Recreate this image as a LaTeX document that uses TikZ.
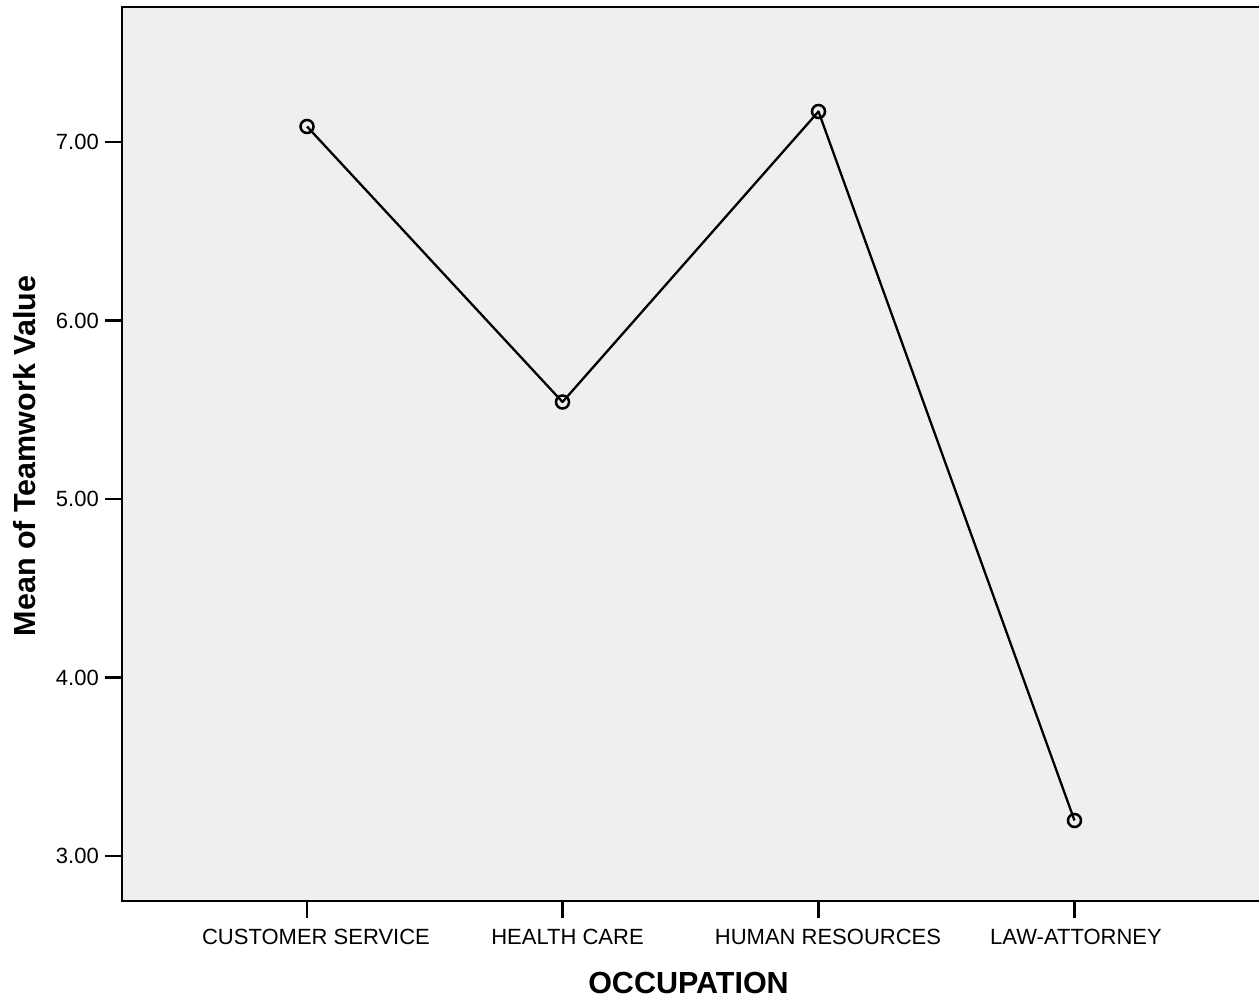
\documentclass[tikz,border=0pt]{standalone}
\usepackage{fontspec}
\setmainfont{Liberation Sans}
\definecolor{plotbg}{RGB}{239,239,239}
\begin{document}
\begin{tikzpicture}[x=1pt,y=-1pt,
  ticklab/.style={font=\fontsize{22}{24}\selectfont, inner sep=0pt},
  axlab/.style={font=\fontsize{30.5}{34}\selectfont\bfseries, inner sep=0pt},
  marker/.style={circle, draw=black, line width=2.5pt, minimum size=13pt, inner sep=0pt},
  dataline/.style={line width=2.3pt, line join=round},
  tickline/.style={line width=2.5pt}]
\useasboundingbox (0,0) rectangle (1259,1000);
\fill[plotbg] (122,7) rectangle (1262,901);
\draw[line width=2pt] (1262,7) -- (122,7) -- (122,901) -- (1262,901);
% y ticks
\foreach \v/\yy in {7.00/142, 6.00/320.5, 5.00/499, 4.00/677.5, 3.00/856}{
  \draw[tickline] (105,\yy) -- (122,\yy);
  \node[ticklab, anchor=east] at (99,\yy) {\v};
}
% x ticks
\foreach \xx/\lx/\t in {307/316/CUSTOMER SERVICE, 562.5/567.5/HEALTH CARE, 818.5/828/HUMAN RESOURCES, 1074.5/1076/LAW-ATTORNEY}{
  \draw[tickline] (\xx,901) -- (\xx,918);
  \node[ticklab, anchor=base] at (\lx,944) {\t};
}
% axis labels
\node[axlab, anchor=base] (xlab) at (688.5,993) {OCCUPATION};
\node[axlab, anchor=base, rotate=90] (ylab) at (35,456) {Mean of Teamwork Value};
% data
\coordinate (cs) at (307,126.5);
\coordinate (hc) at (562.5,402);
\coordinate (hr) at (818.5,111.5);
\coordinate (la) at (1074.5,820.5);
\draw[dataline] (cs) -- (hc) -- (hr) -- (la);
\foreach \p in {cs,hc,hr,la}{
  \node[marker] (m-\p) at (\p) {};
}
\end{tikzpicture}
\end{document}
